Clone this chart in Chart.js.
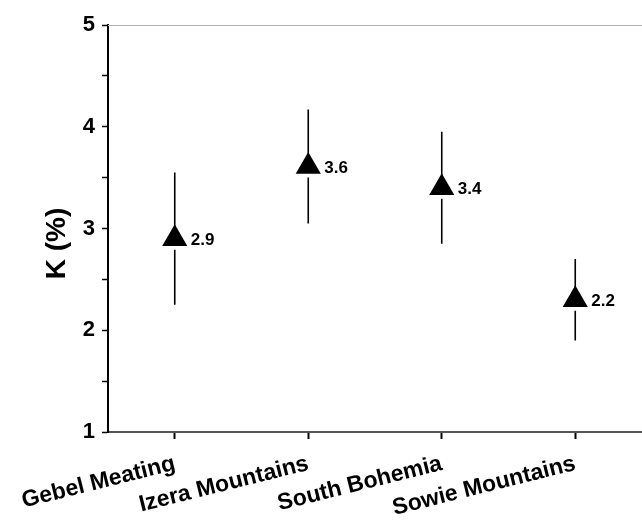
<!DOCTYPE html>
<html>
<head>
<meta charset="utf-8">
<script src="https://cdn.jsdelivr.net/npm/chart.js@4"></script>
<style>
  html, body { margin: 0; padding: 0; background: #fff; }
  #wrap { width: 642px; height: 522px; position: relative; }
</style>
</head>
<body>
<div id="wrap"><canvas id="c"></canvas></div>
<script>
const categories = ['Gebel Meating', 'Izera Mountains', 'South Bohemia', 'Sowie Mountains'];
const means = [2.9, 3.61, 3.4, 2.3];
const errors = [0.65, 0.56, 0.55, 0.4];
const valueLabels = ['2.9', '3.6', '3.4', '2.2'];
const yTickLabels = [1, 2, 3, 4, 5];
const yTitle = 'K (%)';

const FONT = "'Liberation Sans', Arial, sans-serif";

const errorBarPlugin = {
  id: 'errorBars',
  beforeDatasetsDraw(chart) {
    const ctx = chart.ctx;
    const xs = chart.scales.x, ys = chart.scales.y;
    ctx.save();
    ctx.strokeStyle = '#000';
    ctx.lineWidth = 1.6;
    means.forEach((m, i) => {
      const x = xs.getPixelForValue(i);
      const yc = ys.getPixelForValue(m);
      const yt = ys.getPixelForValue(m + errors[i]);
      const yb = ys.getPixelForValue(m - errors[i]);
      ctx.beginPath();
      ctx.moveTo(x, yt); ctx.lineTo(x, yc - 8);
      ctx.moveTo(x, yc + 11); ctx.lineTo(x, yb);
      ctx.stroke();
    });
    ctx.restore();
  },
  afterDatasetsDraw(chart) {
    const ctx = chart.ctx;
    const xs = chart.scales.x, ys = chart.scales.y;
    ctx.save();
    ctx.fillStyle = '#000';
    ctx.font = 'bold 17px ' + FONT;
    ctx.textAlign = 'left';
    ctx.textBaseline = 'middle';
    means.forEach((m, i) => {
      const x = xs.getPixelForValue(i);
      const y = ys.getPixelForValue(m);
      ctx.fillText(valueLabels[i], x + 16, y + 2);
    });
    const a = chart.chartArea;
    ctx.strokeStyle = '#b0b0b0';
    ctx.lineWidth = 1;
    ctx.beginPath();
    ctx.moveTo(a.left, a.top + 0.5);
    ctx.lineTo(a.right, a.top + 0.5);
    ctx.stroke();
    // y axis title
    ctx.translate(57, (a.top + a.bottom) / 2 + 15);
    ctx.rotate(-Math.PI / 2);
    ctx.textAlign = 'center';
    ctx.textBaseline = 'middle';
    ctx.font = 'bold 28px ' + FONT;
    ctx.fillText(yTitle, 0, 0);
    ctx.restore();
  }
};

new Chart(document.getElementById('c'), {
  type: 'line',
  data: {
    labels: categories,
    datasets: [{
      data: means,
      showLine: false,
      pointStyle: 'triangle',
      pointRadius: 14.5,
      pointHoverRadius: 14.5,
      pointBackgroundColor: '#000',
      pointBorderColor: '#000',
      pointBorderWidth: 0
    }]
  },
  options: {
    responsive: true,
    maintainAspectRatio: false,
    animation: false,
    events: [],
    layout: { autoPadding: false, padding: { top: 25, right: 0, left: 0, bottom: 0 } },
    plugins: { legend: { display: false }, tooltip: { enabled: false } },
    scales: {
      x: {
        offset: true,
        afterFit(s) { s.height = 90; s.paddingRight = 0; s.paddingLeft = 0; },
        border: { color: '#555', width: 2 },
        grid: { drawOnChartArea: false, tickLength: 7, tickColor: '#000', tickWidth: 2, offset: false },
        ticks: {
          color: '#000',
          font: { family: FONT, size: 23, weight: 'bold' },
          minRotation: 14, maxRotation: 14,
          padding: 11,
          autoSkip: false
        }
      },
      y: {
        min: 1, max: 5,
        afterFit(s) { s.width = 108; s.paddingTop = 0; s.paddingBottom = 0; },
        border: { color: '#000', width: 2 },
        grid: { drawOnChartArea: false, tickLength: 6, tickColor: '#000', tickWidth: 1.5 },
        ticks: {
          stepSize: 0.5,
          color: '#000',
          font: { family: FONT, size: 22, weight: 'bold' },
          padding: 7,
          callback: (v) => yTickLabels.includes(v) ? String(v) : ''
        },
        title: { display: false }
      }
    }
  },
  plugins: [errorBarPlugin]
});
</script>
</body>
</html>
